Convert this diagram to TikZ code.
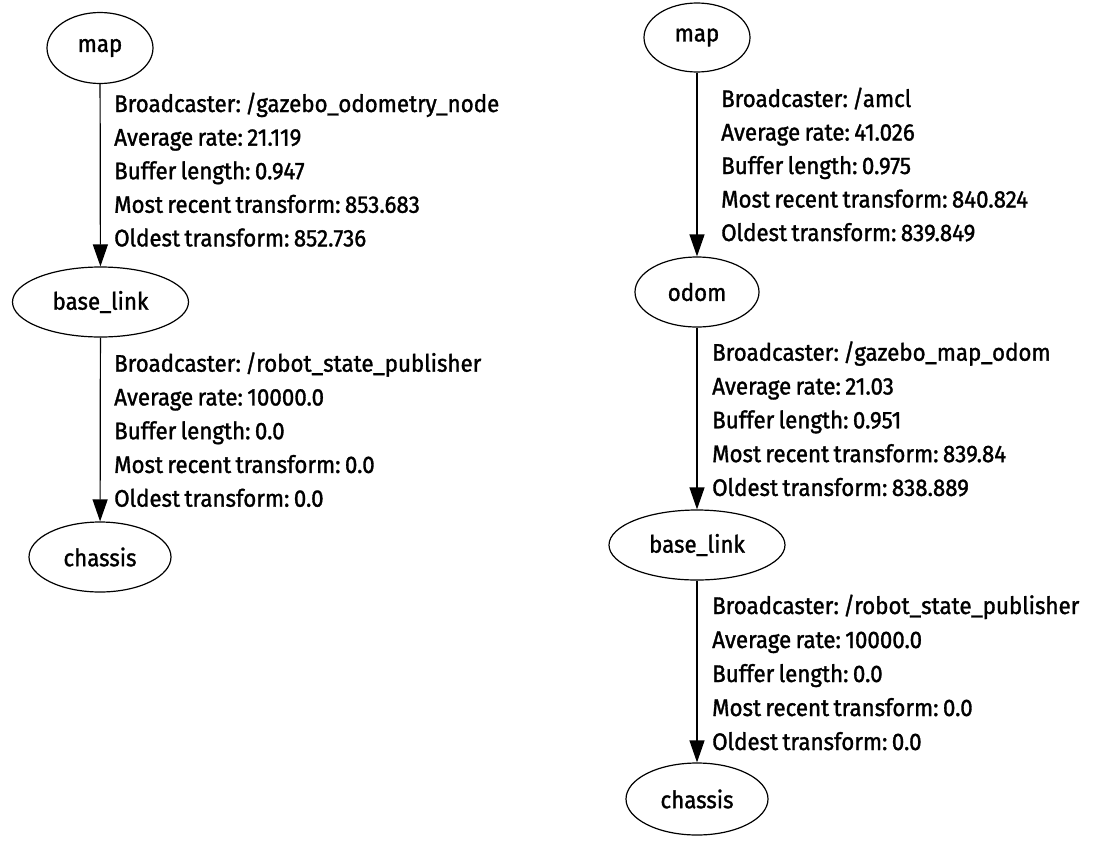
\documentclass[tikz,border=0pt]{standalone}
\usepackage{fontspec}
\setmainfont{Fira Sans}[FakeStretch=0.93, FakeBold=1.3, WordSpace=0.75]
\frenchspacing
\usetikzlibrary{shapes.geometric,arrows.meta}
\begin{document}
\begin{tikzpicture}[x=1pt,y=1pt,
  every node/.style={font=\fontsize{24}{33.8}\selectfont},
  frame/.style={draw, ellipse, line width=1.2pt, inner sep=0pt},
  edge/.style={line width=1.2pt, -{Triangle[length=22pt,width=15pt]}},
  info/.style={anchor=base west, inner sep=0pt}]
\useasboundingbox (0,0) rectangle (1097,-846);
% left graph
\node[frame, minimum width=106pt, minimum height=71pt] (mapL) at (100,-48) {map};
\node[frame, minimum width=176pt, minimum height=70pt] (baseL) at (100.5,-302) {base\_link};
\node[frame, minimum width=142pt, minimum height=70pt] (chassisL) at (100,-557) {chassis};
\draw[edge] (mapL) -- (baseL);
\draw[edge] (baseL) -- (chassisL);
\foreach \t [count=\i] in {Broadcaster: /gazebo\_odometry\_node, Average rate: 21.119, Buffer length: 0.947, Most recent transform: 853.683, Oldest transform: 852.736}
  \node[info] (infoL1-\i) at (114,{-112-33.6*(\i-1)}) {\t};
\foreach \t [count=\i] in {Broadcaster: /robot\_state\_publisher, Average rate: 10000.0, Buffer length: 0.0, Most recent transform: 0.0, Oldest transform: 0.0}
  \node[info] (infoL2-\i) at (114,{-371.7-33.75*(\i-1)}) {\t};
% right graph
\node[frame, minimum width=106pt, minimum height=69pt] (mapR) at (697,-37.5) {map};
\node[frame, minimum width=124pt, minimum height=70pt] (odomR) at (697,-292) {odom};
\node[frame, minimum width=176pt, minimum height=70pt] (baseR) at (697,-545) {base\_link};
\node[frame, minimum width=142pt, minimum height=72pt] (chassisR) at (697,-799) {chassis};
\draw[edge] (mapR) -- (odomR);
\draw[edge] (odomR) -- (baseR);
\draw[edge] (baseR) -- (chassisR);
\foreach \t [count=\i] in {Broadcaster: /amcl, Average rate: 41.026, Buffer length: 0.975, Most recent transform: 840.824, Oldest transform: 839.849}
  \node[info] (infoR1-\i) at (721,{-107-33.5*(\i-1)}) {\t};
\foreach \t [count=\i] in {Broadcaster: /gazebo\_map\_odom, Average rate: 21.03, Buffer length: 0.951, Most recent transform: 839.84, Oldest transform: 838.889}
  \node[info] (infoR2-\i) at (712,{-360.7-33.8*(\i-1)}) {\t};
\foreach \t [count=\i] in {Broadcaster: /robot\_state\_publisher, Average rate: 10000.0, Buffer length: 0.0, Most recent transform: 0.0, Oldest transform: 0.0}
  \node[info] (infoR3-\i) at (712,{-614-34*(\i-1)}) {\t};
\end{tikzpicture}
\end{document}
